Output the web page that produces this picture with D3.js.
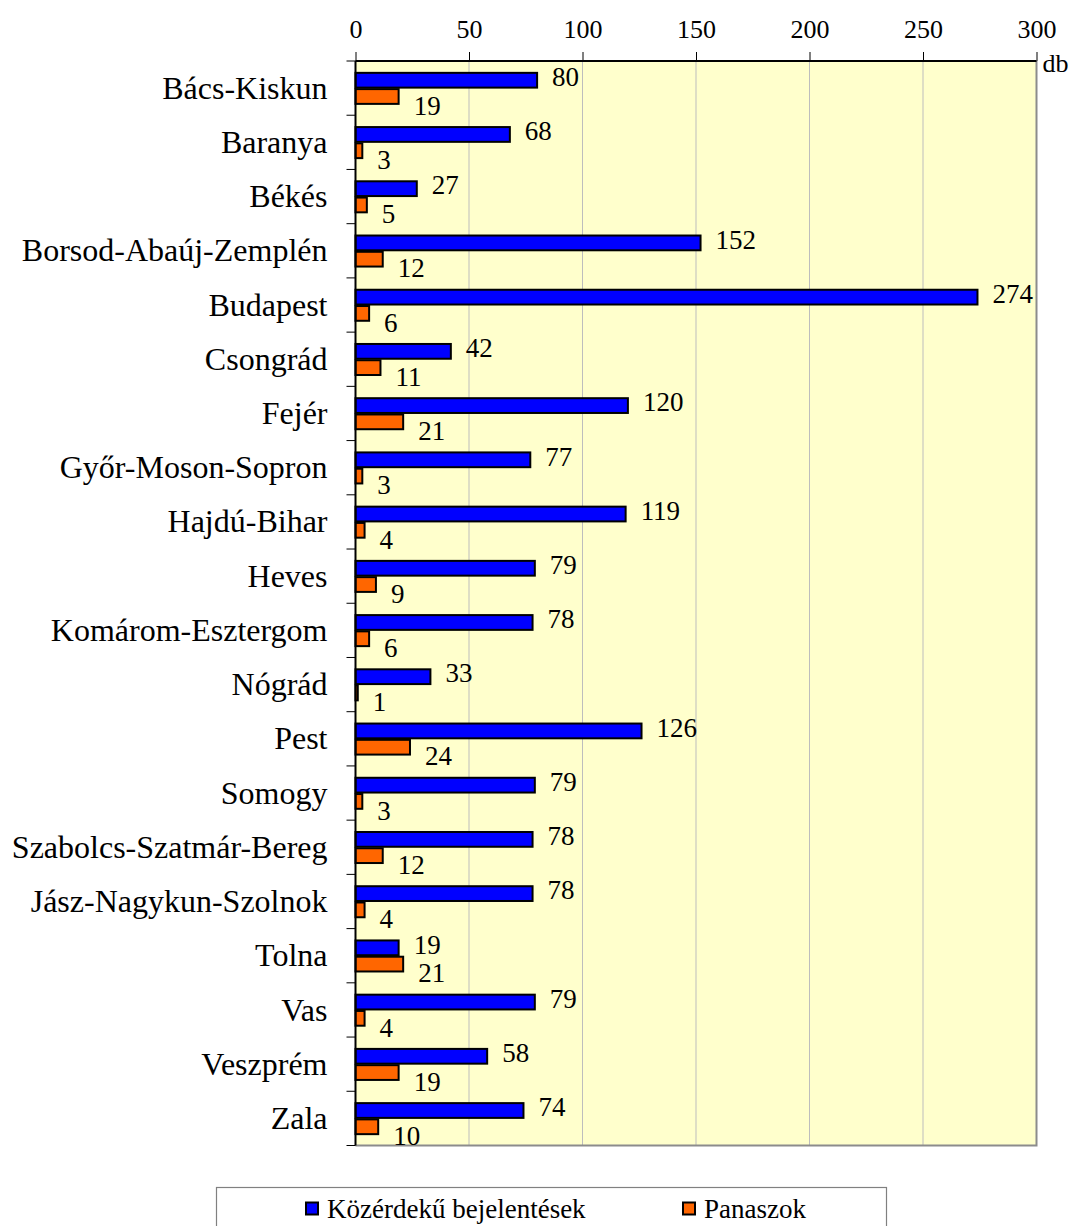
<!DOCTYPE html>
<html><head><meta charset="utf-8">
<script src="https://cdn.jsdelivr.net/npm/d3@7"></script>
<style>body{margin:0;background:#fff}svg{display:block}svg text{font-family:"Liberation Serif","Times New Roman",serif}</style>
</head><body>
<script>
const categories = ["Bács-Kiskun","Baranya","Békés","Borsod-Abaúj-Zemplén","Budapest","Csongrád","Fejér","Győr-Moson-Sopron","Hajdú-Bihar","Heves","Komárom-Esztergom","Nógrád","Pest","Somogy","Szabolcs-Szatmár-Bereg","Jász-Nagykun-Szolnok","Tolna","Vas","Veszprém","Zala"];
const seriesNames = ["Közérdekű bejelentések","Panaszok"];
const bejelentesek = [80,68,27,152,274,42,120,77,119,79,78,33,126,79,78,78,19,79,58,74];
const panaszok = [19,3,5,12,6,11,21,3,4,9,6,1,24,3,12,4,21,4,19,10];
const xTicks = [0,50,100,150,200,250,300];
const unitLabel = "db";

(function(){
const W = 1070, H = 1226;
const pL = 355.5, pR = 1036.5, pT = 61, pB = 1145.5;
const colors = ["#0000FF","#FF6600"];

const svg = d3.select("body").append("svg").attr("width",W).attr("height",H);

const x = d3.scaleLinear().domain([0,300]).range([pL,pR]);
const y = d3.scaleBand().domain(categories).range([pT,pB]).padding(0);
const ys = d3.scaleBand().domain(seriesNames).range([y.bandwidth()*0.2, y.bandwidth()*0.8]).padding(0);

svg.append("rect").attr("x",pL).attr("y",pT).attr("width",pR-pL).attr("height",pB-pT)
  .attr("fill","#FFFFCC");

svg.append("g").selectAll("line").data(xTicks.filter(t=>t>0 && t<300)).join("line")
  .attr("x1",d=>x(d)).attr("x2",d=>x(d)).attr("y1",pT).attr("y2",pB)
  .attr("stroke","#BDBDBD").attr("stroke-width",1);

svg.append("path").attr("d",`M${pL},${pB}H${pR}V${pT}`)
  .attr("fill","none").attr("stroke","#8C8C8C").attr("stroke-width",2);

const rows = categories.map((c,i)=>({c, vals:[bejelentesek[i], panaszok[i]]}));
const g = svg.append("g").selectAll("g").data(rows).join("g")
  .attr("transform",d=>`translate(0,${y(d.c)})`);
g.selectAll("rect").data(d=>d.vals.map((v,k)=>({v,k}))).join("rect")
  .attr("x",x(0)).attr("y",d=>ys(seriesNames[d.k])+1)
  .attr("width",d=>x(d.v)-x(0)).attr("height",ys.bandwidth()-1.5)
  .attr("fill",d=>colors[d.k]).attr("stroke","#000").attr("stroke-width",2);
g.selectAll("text").data(d=>d.vals.map((v,k)=>({v,k}))).join("text")
  .attr("x",d=>x(d.v)+15)
  .attr("y",d=>ys(seriesNames[d.k])+ys.bandwidth()/2 + (d.k===0?6:18.5))
  .attr("font-size",27).attr("fill","#000").text(d=>d.v);

const xAxis = d3.axisTop(x).tickValues(xTicks).tickSize(9).tickPadding(14).tickFormat(d3.format("d"));
const ax = svg.append("g").attr("transform",`translate(0,${pT})`).call(xAxis)
  .attr("font-family",null);
ax.select(".domain").attr("stroke","#000").attr("stroke-width",2).attr("d",`M${pL},0H${pR}`);
ax.selectAll(".tick line").attr("stroke","#000").attr("stroke-width",1);
ax.selectAll(".tick text").attr("font-size",26).attr("fill","#000");

const yAxis = d3.axisLeft(y).tickSize(0).tickPadding(28);
const ay = svg.append("g").attr("transform",`translate(${pL},0)`).call(yAxis)
  .attr("font-family",null);
ay.select(".domain").attr("stroke","#000").attr("stroke-width",2).attr("d",`M0,${pT}V${pB}`);
ay.selectAll(".tick text").attr("font-size",32).attr("fill","#000").attr("dy","0.33em");
svg.append("g").selectAll("line").data(categories.concat(["__end"])).join("line")
  .attr("x1",pL-9).attr("x2",pL)
  .attr("y1",(d,i)=> i<categories.length ? y(d) : pB)
  .attr("y2",(d,i)=> i<categories.length ? y(d) : pB)
  .attr("stroke","#000").attr("stroke-width",1);

svg.append("text").attr("x",pR+6).attr("y",72).attr("font-size",26).text(unitLabel);

const lg = svg.append("g");
lg.append("rect").attr("x",216.5).attr("y",1187.5).attr("width",670).attr("height",60)
  .attr("fill","#fff").attr("stroke","#808080").attr("stroke-width",1.2);
const legX = [305, 682];
seriesNames.forEach((s,k)=>{
  lg.append("rect").attr("x",legX[k]+1).attr("y",1202.5).attr("width",12).attr("height",12)
    .attr("fill",colors[k]).attr("stroke","#000").attr("stroke-width",2);
  lg.append("text").attr("x",legX[k]+22).attr("y",1218).attr("font-size",27).text(s);
});
})();
</script>
</body></html>
